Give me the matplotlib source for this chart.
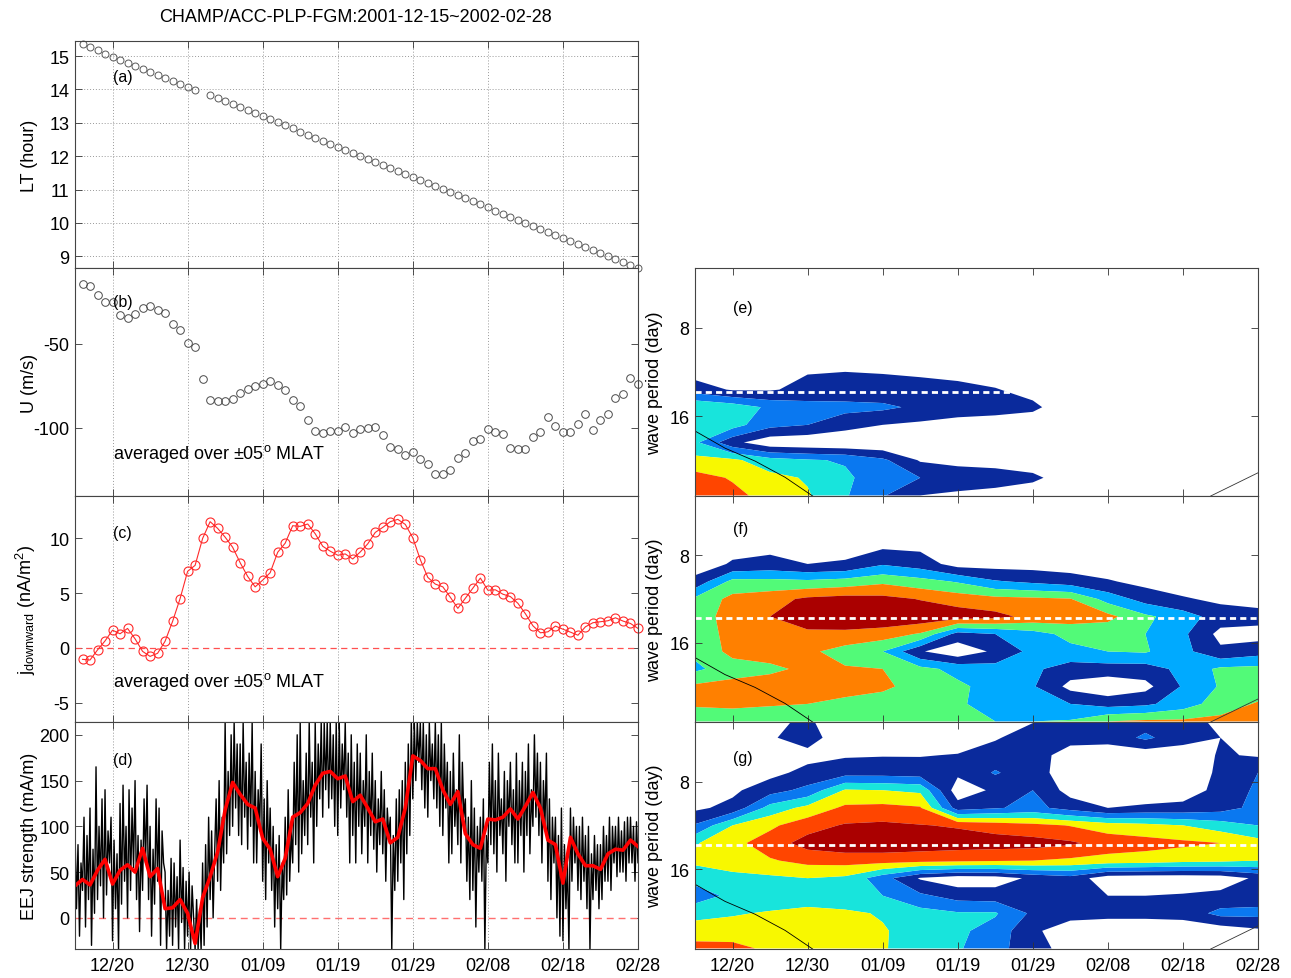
import numpy as np
import matplotlib
matplotlib.use("Agg")
import matplotlib.pyplot as plt
from matplotlib.ticker import NullLocator

plt.rcParams['font.family'] = ['Liberation Sans', 'DejaVu Sans']
plt.rcParams['mathtext.default'] = 'regular'
plt.rcParams['axes.unicode_minus'] = False

# ---------------- data ----------------
title = "CHAMP/ACC-PLP-FGM:2001-12-15~2002-02-28"
tick_days = [5, 15, 25, 35, 45, 55, 65, 75]
tick_labels = ["12/20", "12/30", "01/09", "01/19", "01/29", "02/08", "02/18", "02/28"]

# daily samples (days after 2001-12-15)
days = list(range(1, 76))

lt_hour = [15.35, 15.26, 15.17, 15.07, 14.98, 14.89, 14.80, 14.71, 14.61, 14.52,
           14.43, 14.34, 14.25, 14.15, 14.06, 13.97, np.nan, 13.82, 13.73, 13.64,
           13.55, 13.46, 13.37, 13.28, 13.19, 13.10, 13.01, 12.92, 12.83, 12.73,
           12.64, 12.55, 12.46, 12.37, 12.28, 12.19, 12.10, 12.01, 11.92, 11.83,
           11.74, 11.65, 11.55, 11.46, 11.37, 11.28, 11.19, 11.10, 11.01, 10.92,
           10.83, 10.74, 10.65, 10.56, 10.47, 10.37, 10.28, 10.19, 10.10, 10.01,
           9.92, 9.83, 9.74, 9.65, 9.56, 9.47, 9.38, 9.28, 9.19, 9.10,
           9.01, 8.92, 8.83, 8.74, 8.65]

u_wind = [-14.3, -15.7, -21.2, -25.2, -25.2, -33.1, -34.5, -32.5, -28.8, -27.6,
          -29.8, -31.7, -38.5, -42.1, -49.6, -51.8, -71.2, -83.3, -84.3, -84.3,
          -83.1, -79.4, -77.0, -75.4, -74.2, -72.0, -74.4, -77.4, -83.7, -86.9,
          -95.4, -101.8, -103.0, -102.0, -101.8, -99.2, -103.0, -100.8, -100.0, -99.2,
          -104.0, -111.5, -112.7, -115.9, -114.5, -118.8, -121.2, -127.4, -127.4, -125.0,
          -118.0, -114.9, -108.1, -106.5, -100.8, -102.4, -103.4, -111.7, -112.5, -112.7,
          -105.6, -102.6, -93.8, -99.0, -102.4, -102.2, -98.0, -91.9, -101.0, -95.4,
          -91.5, -82.1, -79.6, -70.4, -74.0]

j_down = [-1.04, -1.10, -0.18, 0.64, 1.62, 1.29, 1.78, 0.83, -0.31, -0.77,
          -0.49, 0.61, 2.42, 4.50, 6.98, 7.53, 9.98, 11.51, 10.90, 10.10,
          9.18, 7.77, 6.52, 5.57, 6.18, 6.86, 8.72, 9.55, 11.14, 11.08,
          11.30, 10.41, 9.27, 8.82, 8.45, 8.57, 8.11, 8.75, 9.49, 10.53,
          10.99, 11.51, 11.72, 11.26, 10.04, 8.05, 6.43, 5.82, 5.57, 4.62,
          3.61, 4.53, 5.45, 6.37, 5.26, 5.30, 4.90, 4.68, 4.07, 3.12,
          2.02, 1.38, 1.47, 1.99, 1.71, 1.44, 1.16, 1.93, 2.30, 2.39,
          2.48, 2.75, 2.45, 2.23, 1.78]

# EEJ daily running mean (days 0..75)
eej_mean = [35, 42, 36, 52, 64, 37, 52, 58, 50, 76,
            45, 54, 10, 11, 20, 5, -28, 22, 45, 72,
            118, 148, 135, 124, 120, 87, 75, 45, 65, 110,
            115, 125, 145, 158, 160, 152, 155, 127, 134, 120,
            105, 108, 82, 88, 120, 177, 172, 163, 163, 140,
            124, 138, 92, 80, 76, 108, 107, 110, 119, 108,
            122, 137, 120, 85, 80, 38, 88, 70, 57, 57,
            53, 70, 75, 74, 85, 78]

# EEJ individual orbit values, 5 per day starting at day 0
eej_orbit = [
    95, 10, 80, -20, 60,   30, 110, -10, 90, 20,   120, -30, 75, 5, 165,
    20, 100, 35, 130, 0,   140, 25, 95, 60, 110,   -25, 85, 10, 70, -35,
    125, 15, 145, 40, 100,  0, 140, 30, 120, 55,   150, 20, 90, -15, 85,
    30, 130, 60, 145, 20,  100, -20, 75, 15, 130,  40, 120, -30, 95, 60,
    50, -35, 30, -20, 65,  -30, 60, -10, 45, -35,  85, -5, 55, -35, 40,
    -20, 50, -35, 35, 0,   -35, 20, -35, 10, -35,  60, -30, 80, -10, 110,
    20, 95, 0, 70, 130,    40, 150, 30, 110, 60,   214, 70, 160, 90, 200,
    100, 214, 120, 190, 90, 190, 80, 214, 110, 170, 75, 180, 100, 214, 60,
    160, 60, 140, 95, 190,  40, 130, 20, 150, 60,  120, 30, 100, -10, 80,
    10, 90, -35, 60, 20,   110, 25, 140, 40, 95,   60, 170, 80, 200, 50,
    214, 70, 150, 90, 180,  80, 214, 110, 170, 60, 214, 100, 190, 130, 214,
    110, 214, 140, 214, 120, 214, 130, 200, 100, 214, 90, 214, 120, 190, 140,
    214, 110, 180, 60, 200, 90, 170, 60, 190, 100, 180, 70, 150, 100, 200,
    60, 160, 90, 180, 75,  150, 50, 130, 80, 160,  70, 140, 40, 120, 90,
    110, -35, 90, 30, 130, 40, 140, 60, 150, 20,   170, 70, 190, 90, 214,
    130, 214, 150, 214, 170, 214, 140, 214, 120, 200, 110, 214, 150, 190, 130,
    214, 120, 200, 100, 214, 90, 190, 120, 170, 60, 160, 70, 180, 100, 140,
    80, 200, 60, 170, 110, 130, 40, 110, 20, 150,  30, 120, -10, 100, 50,
    110, 40, 130, -35, 90, 60, 170, 80, 190, 70,   150, 50, 180, 90, 130,
    70, 160, 40, 150, 100, 170, 80, 140, 60, 180,  60, 150, 90, 170, 50,
    160, 90, 190, 70, 140, 100, 200, 110, 180, 90, 170, 60, 150, 100, 180,
    40, 130, 20, 110, 60,  110, 0, 90, -20, 120,   -25, 80, 10, 60, -35,
    120, 40, 110, 60, 100,  30, 100, 20, 110, 40,  90, 10, 100, -35, 70,
    20, 90, 30, 80, 10,    80, 20, 100, 40, 90,    40, 110, 30, 100, 60,
    100, 45, 110, 50, 95,  50, 105, 40, 110, 60,   110, 60, 100, 40, 105,
    60, 105, 35, 95, 80]

# wavelet spectra: rows = wave period (day), columns = day
wav_days = [0, 5, 10, 15, 20, 25, 30, 35, 40, 45, 50, 55, 60, 65, 70, 75]
wav_period = [4.92, 5.66, 6.50, 7.46, 8.57, 9.85, 11.31, 13.0, 14.93, 17.15,
              19.70, 22.63, 25.99, 29.86]

power_e = [
    [0]*16, [0]*16, [0]*16, [0]*16, [0]*16,
    [0.2, 0.1, 0.2, 0.5, 0.5, 0.4, 0.3, 0.2, 0.1, 0, 0, 0, 0, 0, 0, 0],
    [0.6, 0.4, 0.4, 0.95, 1.0, 0.95, 0.8, 0.7, 0.6, 0.3, 0, 0, 0, 0, 0, 0],
    [1.5, 0.9, 0.9, 1.3, 1.4, 1.4, 1.5, 1.3, 1.05, 0.7, 0.2, 0, 0, 0, 0, 0],
    [4.0, 3.6, 2.8, 2.4, 2.3, 2.2, 1.8, 1.5, 1.4, 1.2, 0.4, 0, 0, 0, 0, 0],
    [3.5, 3.4, 2.3, 2.0, 1.4, 1.0, 0.8, 0.6, 0.5, 0.4, 0, 0, 0, 0, 0, 0],
    [3.2, 1.3, 0.3, 0.2, 0.1, 0.1, 0.1, 0.1, 0.1, 0.1, 0, 0, 0, 0, 0, 0],
    [4.3, 4.2, 3.4, 3.1, 2.9, 2.2, 0.9, 0.7, 0.6, 0.5, 0.2, 0, 0, 0, 0, 0],
    [5.4, 4.9, 4.3, 3.9, 3.2, 2.4, 2.0, 1.6, 1.5, 1.2, 0.5, 0, 0, 0, 0, 0],
    [5.8, 5.3, 4.6, 4.1, 3.1, 2.1, 1.0, 0.8, 0.6, 0.4, 0, 0, 0, 0, 0, 0],
]

power_f = [
    [0]*16, [0]*16, [0]*16,
    [0.3, 0.7, 0.75, 0.6, 0.7, 0.85, 0.8, 0.5, 0.45, 0.45, 0.4, 0.35, 0.25, 0.2, 0.1, 0.1],
    [0.5, 1.1, 1.3, 1.0, 1.1, 1.9, 1.5, 0.6, 0.6, 0.6, 0.5, 0.4, 0.3, 0.2, 0.1, 0.1],
    [1.3, 3.3, 3.3, 3.2, 3.4, 3.8, 3.4, 2.9, 2.1, 1.8, 1.5, 1.1, 0.7, 0.5, 0.3, 0.3],
    [3.2, 4.3, 4.6, 5.2, 5.4, 5.3, 4.95, 4.6, 4.3, 4.2, 4.05, 2.6, 1.6, 1.1, 0.8, 0.6],
    [3.4, 4.5, 5.0, 5.8, 5.9, 5.8, 5.7, 5.5, 5.3, 4.7, 4.5, 4.3, 3.2, 2.5, 1.5, 1.4],
    [3.3, 4.4, 4.5, 4.7, 4.7, 4.5, 3.9, 1.6, 2.0, 2.6, 3.3, 3.3, 3.0, 2.2, 0.7, 0.6],
    [3.2, 4.3, 4.4, 4.2, 3.6, 3.0, 1.1, 0.3, 1.2, 2.3, 2.7, 3.0, 3.1, 2.3, 1.2, 1.6],
    [2.8, 3.5, 3.8, 4.2, 4.1, 4.0, 3.3, 2.7, 2.4, 2.2, 1.5, 1.5, 1.5, 2.3, 3.2, 3.3],
    [4.2, 4.4, 4.5, 4.4, 4.3, 4.2, 3.6, 3.2, 2.6, 2.1, 0.7, 0.3, 0.7, 2.1, 3.1, 3.4],
    [4.1, 4.2, 4.1, 4.0, 3.8, 3.5, 3.3, 3.1, 2.7, 2.4, 2.0, 1.6, 1.8, 2.5, 3.5, 4.1],
    [3.5, 3.4, 3.3, 3.2, 3.2, 3.1, 3.1, 3.1, 3.0, 3.0, 3.1, 4.0, 4.2, 4.2, 4.3, 4.3],
]

power_g = [
    [0, 0, 0.7, 1.2, 0, 0, 0, 0, 0.3, 0.9, 1.3, 1.4, 1.5, 1.3, 0.8, 0.5],
    [0, 0.2, 0.9, 1.4, 0.4, 0.3, 0.5, 0.5, 0.9, 1.5, 1.3, 1.4, 2.2, 1.4, 1.0, 0.6],
    [0, 0.2, 0.4, 0.7, 0.9, 0.95, 0.95, 1.05, 1.5, 1.4, 0.6, 0.3, 0.3, 0.4, 1.1, 0.9],
    [0, 0.4, 0.7, 1.3, 1.6, 1.6, 1.5, 1.2, 2.1, 1.4, 0.5, 0.2, 0.2, 0.3, 1.2, 2.0],
    [0.6, 0.8, 1.6, 2.3, 4.1, 4.0, 3.8, 0.4, 1.2, 2.0, 0.6, 0.3, 0.3, 0.5, 1.3, 2.2],
    [0.8, 1.3, 3.4, 4.3, 5.2, 5.3, 5.1, 1.5, 1.9, 2.3, 1.6, 1.0, 1.2, 1.3, 1.6, 2.3],
    [2.1, 4.0, 4.8, 5.6, 6.1, 6.2, 6.05, 5.9, 5.6, 5.3, 4.95, 4.5, 4.3, 4.0, 3.5, 3.0],
    [3.9, 4.7, 5.5, 6.4, 6.7, 6.7, 6.6, 6.5, 6.45, 6.4, 6.15, 5.6, 5.4, 5.2, 5.0, 4.4],
    [4.2, 4.5, 4.9, 5.3, 5.4, 5.4, 5.3, 5.2, 5.1, 5.0, 4.8, 4.6, 4.5, 4.3, 4.2, 4.0],
    [3.4, 3.7, 3.8, 4.0, 3.8, 2.4, 0.9, 0.4, 0.5, 1.2, 1.6, 0.4, 0.3, 0.3, 0.4, 1.2],
    [2.4, 3.3, 3.4, 3.5, 3.3, 3.0, 2.2, 1.6, 1.5, 1.6, 1.1, 1.0, 1.0, 1.1, 1.3, 1.5],
    [3.8, 3.9, 4.1, 4.3, 4.2, 3.9, 3.4, 3.1, 3.1, 1.8, 1.4, 1.3, 1.3, 1.4, 2.3, 2.3],
    [4.3, 4.5, 4.4, 4.3, 4.3, 4.1, 3.5, 3.2, 2.6, 1.2, 0.4, 0.3, 0.3, 0.3, 0.4, 0.8],
    [5.5, 5.3, 4.8, 4.4, 4.3, 4.1, 3.4, 3.1, 2.4, 1.3, 0.7, 0.4, 0.4, 0.4, 0.5, 0.7],
]

ref_period = 13.2
coi_left_days = [0, 4, 8, 12, 16]
coi_left_period = [18.0, 20.6, 22.8, 25.9, 30.4]
coi_right_days = [68.7, 75]
coi_right_period = [30.0, 25.0]

# ---------------- styling ----------------
navy = '#0a2a9c'; blue = '#0a78f0'; lblue = '#00aaff'; cyan = '#18e4dc'
green = '#52fa78'; yellow = '#f8f800'; orange = '#ff8000'
redor = '#ff4500'; dred = '#aa0000'

FS = 13
fig = plt.figure(figsize=(12.91, 9.79), dpi=100)
W, H = 1291.0, 979.0

def axrect(x0, x1, y0, y1):
    return [x0 / W, 1 - y1 / H, (x1 - x0) / W, (y1 - y0) / H]

axa = fig.add_axes(axrect(75, 638, 42, 269))
axb = fig.add_axes(axrect(75, 638, 269, 497))
axc = fig.add_axes(axrect(75, 638, 497, 723))
axd = fig.add_axes(axrect(75, 638, 723, 950))
axe = fig.add_axes(axrect(695, 1258, 269, 497))
axf = fig.add_axes(axrect(695, 1258, 497, 723))
axg = fig.add_axes(axrect(695, 1258, 723, 950))

for ax in [axa, axb, axc, axd, axe, axf, axg]:
    ax.set_xlim(0, 75)
    ax.set_xticks(tick_days)
    ax.set_xticklabels(tick_labels)
    ax.tick_params(direction='in', top=True, right=True, length=5, width=0.6,
                   labelsize=FS, colors='#333333', labelcolor='black')
    ax.tick_params(axis='x', pad=6)
    ax.tick_params(axis='y', pad=4)
    for s in ax.spines.values():
        s.set_color('#444444')
        s.set_linewidth(0.8)
for ax in [axa, axb, axc, axe, axf]:
    ax.tick_params(labelbottom=False)
for ax in [axa, axb, axc, axd]:
    ax.grid(axis='x', linestyle=(0, (1, 2)), color='#999999', linewidth=0.7)
    ax.set_axisbelow(True)

# (a)
axa.plot(days, lt_hour, 'o', ms=5, mfc='none', mec='#5a5a5a', mew=0.7, clip_on=False)
axa.set_ylim(8.65, 15.45)
axa.set_yticks([9, 10, 11, 12, 13, 14, 15])
axa.grid(axis='y', linestyle=(0, (1, 2)), color='#999999', linewidth=0.7)
axa.set_ylabel('LT (hour)', fontsize=FS)
axa.text(5, 14.39, '(a)', fontsize=FS - 1.5, va='center', ha='left')
fig.text(355 / W, 1 - 17 / H, title, ha='center', va='center', fontsize=FS)

# (b)
axb.plot(days, u_wind, 'o', ms=5.5, mfc='none', mec='#4a4a4a', mew=0.7, clip_on=False)
axb.set_ylim(-140.5, -5)
axb.set_yticks([-100, -50])
axb.set_ylabel('U (m/s)', fontsize=FS)
axb.text(5, -25, '(b)', fontsize=FS - 1.5, va='center', ha='left')
axb.text(5, -115, r'averaged over $\pm$05$^{o}$ MLAT', fontsize=FS, va='center', ha='left')

# (c)
axc.axhline(0, color='#ff5050', lw=0.9, ls=(0, (5, 3.5)))
axc.plot(days, j_down, '-o', color='#ff2a2a', lw=0.8, ms=6.5, mfc='none',
         mec='#ff2a2a', mew=0.8, clip_on=False)
axc.set_ylim(-6.75, 13.85)
axc.set_yticks([-5, 0, 5, 10])
axc.set_ylabel(r'j$_{downward}$ (nA/m$^{2}$)', fontsize=FS)
axc.text(5, 10.5, '(c)', fontsize=FS - 1.5, va='center', ha='left')
axc.text(5, -3.0, r'averaged over $\pm$05$^{o}$ MLAT', fontsize=FS, va='center', ha='left')

# (d)
t_orbit = np.arange(len(eej_orbit)) / 5.0
axd.axhline(0, color='#ff7070', lw=1.0, ls=(0, (5, 3.5)))
axd.plot(t_orbit, eej_orbit, '-', color='black', lw=1.0)
axd.plot(range(len(eej_mean)), eej_mean, '-', color='#ff0000', lw=2.6)
axd.set_ylim(-34, 214)
axd.set_yticks([0, 50, 100, 150, 200])
axd.set_ylabel('EEJ strength (mA/m)', fontsize=FS)
axd.text(5, 173, '(d)', fontsize=FS - 1.5, va='center', ha='left')

for ax in [axa, axb, axc, axd]:
    ax.yaxis.set_label_coords(-0.066, 0.5)

# wavelet panels
X, Y = np.meshgrid(wav_days, wav_period)
specs = [
    (axe, power_e, [1, 2, 3, 4, 5, 9], [navy, blue, cyan, yellow, redor], '(e)', 6.8),
    (axf, power_f, [1, 2, 3, 4, 5, 9], [navy, lblue, green, orange, dred], '(f)', 6.45),
    (axg, power_g, [1, 2, 3, 4, 5, 6, 9], [navy, blue, cyan, yellow, redor, dred], '(g)', 6.6),
]
for ax, Z, lev, cols, lab, ly in specs:
    ax.contourf(X, Y, np.array(Z), levels=lev, colors=cols, antialiased=True)
    ax.set_yscale('log', base=2)
    ax.set_ylim(30, 5)
    ax.set_yticks([8, 16])
    ax.set_yticklabels(['8', '16'])
    ax.yaxis.set_minor_locator(NullLocator())
    ax.axhline(ref_period, color='white', lw=2.0, ls=(0, (2.2, 1.5)))
    ax.plot(coi_left_days, coi_left_period, color='black', lw=0.6)
    ax.plot(coi_right_days, coi_right_period, color='#333333', lw=0.6)
    ax.set_ylabel('wave period (day)', fontsize=FS)
    ax.yaxis.set_label_coords(-0.057, 0.5)
    ax.text(5, ly, lab, fontsize=FS - 1.5, va='center', ha='left')
    ax.set_xlim(0, 75)

fig.savefig('out.png', dpi=100)
